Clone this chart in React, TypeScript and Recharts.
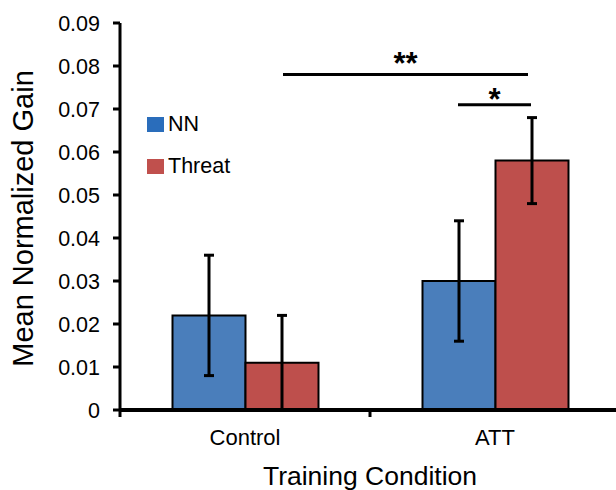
import React from 'react';
import { BarChart, Bar, XAxis, YAxis, ErrorBar, ReferenceLine, Legend } from 'recharts';

// values
const conditions = ['Control', 'ATT'];
const conditionPos = [0.5, 1.5];
const nnMeans = [0.022, 0.03];
const nnErrors = [0.014, 0.014];
const threatMeans = [0.011, 0.058];
const threatErrors = [0.011, 0.01];
const yTicks = [0, 0.01, 0.02, 0.03, 0.04, 0.05, 0.06, 0.07, 0.08, 0.09];

const seriesNames = ['NN', 'Threat'];
const barColors = ['#4A7EBB', '#BE4F4C'];
const legendColors = ['#2A6DBB', '#C0504D'];

// significance brackets, x in category units (0..2), y in data units
const bracketFrom = [0.652, 1.352];
const bracketTo = [1.632, 1.644];
const bracketY = [0.078, 0.071];
const bracketMarks = ['**', '*'];
const bracketOffsets = [1, -5];

const FONT = '"Liberation Sans", Arial, sans-serif';

const chartData = conditions.map((c, i) => ({
  condition: c,
  pos: conditionPos[i],
  nn: nnMeans[i],
  nnErr: nnErrors[i],
  threat: threatMeans[i],
  threatErr: threatErrors[i],
}));

// category label at the band centre, tick mark at the band's left edge
const XTick = ({ x, y, payload }: any) => {
  const half = payload && payload.offset ? payload.offset : 125;
  return (
    <g>
      <line x1={x - half} y1={y} x2={x - half} y2={y + 7} stroke="#000" strokeWidth={3} />
      <text x={x} y={y + 35} textAnchor="middle" fontSize={22} fontFamily={FONT} fill="#000">
        {payload.value}
      </text>
    </g>
  );
};

const XLabel = ({ viewBox }: any) => {
  const { x, y, width } = viewBox;
  return (
    <text x={x + width / 2} y={y + 75} textAnchor="middle" fontSize={26.5} fontFamily={FONT} fill="#000">
      Training Condition
    </text>
  );
};

const YLabel = ({ viewBox }: any) => {
  const { y, height } = viewBox;
  const cx = 33;
  const cy = y + height / 2 + 2;
  return (
    <text
      x={cx}
      y={cy}
      transform={`rotate(-90, ${cx}, ${cy})`}
      textAnchor="middle"
      fontSize={29}
      fontFamily={FONT}
      fill="#000"
    >
      Mean Normalized Gain
    </text>
  );
};

const LegendContent = () => (
  <div style={{ fontFamily: FONT, fontSize: 21.5, color: '#000' }}>
    {seriesNames.map((name, i) => (
      <div key={name} style={{ display: 'flex', alignItems: 'center', height: 42 }}>
        <div style={{ width: 17, height: 15, background: legendColors[i], marginRight: 4 }} />
        <span>{name}</span>
      </div>
    ))}
  </div>
);

const App = () => {
  return (
    <div style={{ position: 'absolute', left: 0, top: 0, width: 616, height: 490, overflow: 'hidden', background: '#fff' }}>
      <BarChart
        width={620}
        height={490}
        data={chartData}
        margin={{ top: 23, right: 0, bottom: 0, left: 0 }}
        barCategoryGap="21%"
        barGap={0}
      >
        <XAxis
          xAxisId="cat"
          dataKey="condition"
          height={80}
          interval={0}
          tickLine={false}
          tickSize={0}
          tickMargin={0}
          tick={<XTick />}
          axisLine={{ stroke: '#000', strokeWidth: 4 }}
          label={<XLabel />}
        />
        <XAxis
          xAxisId="num"
          type="number"
          dataKey="pos"
          domain={[0, 2]}
          allowDataOverflow
          hide
          height={0}
        />
        <YAxis
          width={120}
          domain={[0, 0.09]}
          ticks={yTicks}
          interval={0}
          tickFormatter={(v: number) => (v === 0 ? '0' : v.toFixed(2))}
          tick={{ fontSize: 21.5, fontFamily: FONT, fill: '#000' }}
          tickSize={7}
          tickMargin={13}
          tickLine={{ stroke: '#000', strokeWidth: 3 }}
          axisLine={{ stroke: '#000', strokeWidth: 3 }}
          label={<YLabel />}
        />
        <Legend
          layout="vertical"
          align="center"
          verticalAlign="middle"
          wrapperStyle={{ left: 147, top: 103, width: 'auto' }}
          content={<LegendContent />}
        />
        <Bar xAxisId="cat" dataKey="nn" name={seriesNames[0]} fill={barColors[0]} stroke="#000" strokeWidth={2} isAnimationActive={false}>
          <ErrorBar dataKey="nnErr" width={5} strokeWidth={3} stroke="#000" direction="y" />
        </Bar>
        <Bar xAxisId="cat" dataKey="threat" name={seriesNames[1]} fill={barColors[1]} stroke="#000" strokeWidth={2} isAnimationActive={false}>
          <ErrorBar dataKey="threatErr" width={5} strokeWidth={3} stroke="#000" direction="y" />
        </Bar>
        {bracketMarks.map((mark, i) => (
          <ReferenceLine
            key={mark}
            xAxisId="num"
            ifOverflow="visible"
            segment={[
              { x: bracketFrom[i], y: bracketY[i] },
              { x: bracketTo[i], y: bracketY[i] },
            ]}
            stroke="#000"
            strokeWidth={3}
            label={{
              value: mark,
              position: 'top',
              offset: bracketOffsets[i],
              fontSize: 31,
              fontWeight: 'bold',
              fontFamily: FONT,
              fill: '#000',
            }}
          />
        ))}
      </BarChart>
    </div>
  );
};

export default App;
